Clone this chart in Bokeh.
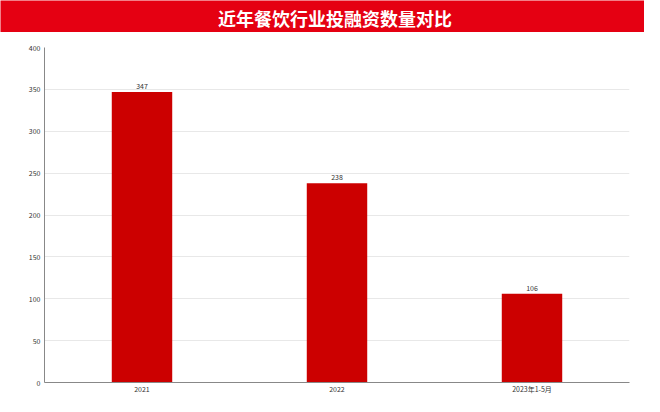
from bokeh.plotting import figure
from bokeh.models import ColumnDataSource, FactorRange, Range1d, FixedTicker, LabelSet
from bokeh.layouts import column
from bokeh.core.properties import value
from bokeh.embed import file_html
from bokeh.resources import INLINE

title_text = "近年餐饮行业投融资数量对比"
categories = ["2021", "2022", "2023年1-5月"]
counts = [347, 238, 106]
y_ticks = [0, 50, 100, 150, 200, 250, 300, 350, 400]

FONT = "Noto Sans CJK SC"
W = 644
RED = "#e50012"
LEFT, RIGHT = 44, 629
HEAD_H = 32

h = figure(width=W, height=HEAD_H, output_backend="svg", toolbar_location=None,
           min_border=0, min_border_left=0, min_border_right=0, min_border_top=0, min_border_bottom=0)
if "frame_align" in h.properties():
    h.frame_align = False
    h.x_range = Range1d(0, W)
else:
    h.x_range = Range1d(LEFT, RIGHT)
h.y_range = Range1d(0, HEAD_H)
h.axis.visible = False
h.grid.visible = False
h.outline_line_color = None
h.background_fill_color = RED
h.border_fill_color = RED
h.text(x=[334.5], y=[HEAD_H - 17], text=[title_text], text_color="white",
       text_font=value(FONT), text_font_size="18px", text_font_style="bold",
       text_align="center", text_baseline="middle")

src = ColumnDataSource(dict(cat=categories, val=counts, lab=[str(v) for v in counts]))

p = figure(width=W, height=396 - HEAD_H, x_range=FactorRange(*categories), y_range=Range1d(0, 400),
           output_backend="svg", toolbar_location=None,
           min_border_left=LEFT, min_border_right=W - RIGHT, min_border_top=15, min_border_bottom=10)
p.outline_line_color = None
p.border_fill_color = "white"
p.vbar(x="cat", top="val", width=0.31, source=src, fill_color="#cc0000", line_color=None)

labels = LabelSet(x="cat", y="val", text="lab", source=src, y_offset=3,
                  text_align="center", text_baseline="bottom",
                  text_font=value(FONT), text_font_size="7px", text_color="#333333")
p.add_layout(labels)

p.xgrid.grid_line_color = None
p.ygrid.grid_line_color = "#e8e8e8"
p.yaxis.ticker = FixedTicker(ticks=y_ticks)
for ax in (p.xaxis[0], p.yaxis[0]):
    ax.axis_line_color = "#888888"
    ax.major_tick_line_color = None
    ax.minor_tick_line_color = None
    ax.major_tick_out = 0
    ax.major_tick_in = 0
    ax.minor_tick_out = 0
    ax.major_label_text_font = FONT
    ax.major_label_text_font_size = "7px"
    ax.major_label_text_color = "#333333"
    ax.major_label_standoff = 4
p.xaxis.major_label_standoff = 1

layout = column(h, p, spacing=0)
open("out.html", "w").write(file_html(layout, INLINE))
